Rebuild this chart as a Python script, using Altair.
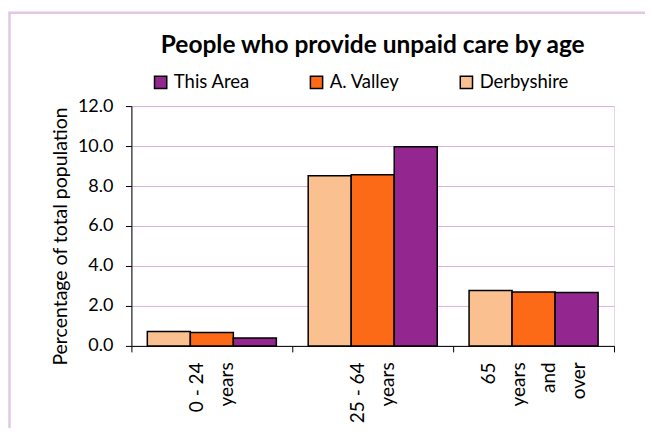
import altair as alt
import pandas as pd

# ---- data ----
ages = ["0 - 24|years", "25 - 64|years", "65|years|and|over"]
series = ["Derbyshire", "A. Valley", "This Area"]
derbyshire = [0.72, 8.52, 2.77]
a_valley = [0.67, 8.56, 2.70]
this_area = [0.40, 9.97, 2.67]

legend_order = ["This Area", "A. Valley", "Derbyshire"]
colors = ["#93278F", "#FC6A17", "#FAC090"]

rows = []
for name, vals in zip(series, [derbyshire, a_valley, this_area]):
    for age, v in zip(ages, vals):
        rows.append({"age": age, "series": name, "value": v})
df = pd.DataFrame(rows)

FONT = "Lato"
LINE_H = 30

bars = alt.Chart(df).mark_bar(stroke="black", strokeWidth=1.5).encode(
    x=alt.X(
        "age:N",
        sort=ages,
        scale=alt.Scale(paddingInner=0, paddingOuter=0),
        axis=alt.Axis(
            title=None,
            labelAngle=-90,
            labelAlign="right",
            labelBaseline="middle",
            # pad 2-line labels to 4 lines so every label block is centred
            labelExpr="length(split(datum.label, '|')) < 4 ? split('|' + datum.label + '|', '|') : split(datum.label, '|')",
            labelLineHeight=LINE_H,
            labelFontSize=19,
            labelPadding=10,
            labelOffset=-1.5 * LINE_H,
            tickBand="extent",
            tickSize=6,
            tickColor="black",
            domainColor="black",
            labelColor="black",
            labelFont=FONT,
        ),
    ),
    xOffset=alt.XOffset(
        "series:N", sort=series, scale=alt.Scale(paddingInner=0, paddingOuter=0.37)
    ),
    y=alt.Y(
        "value:Q",
        scale=alt.Scale(domain=[0, 12], nice=False),
        axis=alt.Axis(
            title="Percentage of total population",
            values=[0, 2, 4, 6, 8, 10, 12],
            format=".1f",
            tickSize=6,
            tickColor="black",
            domainColor="black",
            labelColor="black",
            labelFont=FONT,
            labelFontSize=18,
            labelPadding=12.5,
            gridColor="#DDB0DD",
            gridWidth=1,
            titleFont=FONT,
            titleFontSize=19.5,
            titleFontWeight="normal",
            titleColor="black",
            titleX=-71,
            titleY=130,
            titleAlign="center",
            titleBaseline="middle",
            titleAngle=-90,
        ),
    ),
    color=alt.Color(
        "series:N",
        scale=alt.Scale(domain=legend_order, range=colors),
        legend=alt.Legend(
            title=None,
            orient="none",
            direction="horizontal",
            legendX=20,
            legendY=-33,
            symbolType="square",
            symbolSize=150,
            symbolStrokeColor="black",
            symbolStrokeWidth=1.5,
            symbolOpacity=1,
            labelFont=FONT,
            labelFontSize=18.5,
            labelColor="black",
            labelOffset=4,
            columnPadding=57,
            padding=0,
        ),
    ),
)

frame = alt.Chart(pd.DataFrame({"f": [0]})).mark_rect(
    fill=None, stroke="#E4C6E6", strokeWidth=2.5
).encode(
    x=alt.value(-122), x2=alt.value(600), y=alt.value(-93.5), y2=alt.value(420)
)

chart = alt.layer(frame, bars).properties(
    width=483,
    height=240,
    title=alt.TitleParams(
        "People who provide unpaid care by age",
        font=FONT,
        fontSize=24.5,
        fontWeight="bold",
        color="black",
        anchor="middle",
        baseline="alphabetic",
        offset=0,
        dy=66,
    ),
    autosize=alt.AutoSizeParams(type="none"),
    padding={"left": 123.5, "top": 98, "right": 31, "bottom": 82},
).configure_view(
    fill="#F7EBF7", stroke="#E6C6E6", strokeWidth=1
).configure(background="white")

chart.save("out.html", embed_options={"renderer": "svg", "actions": False})
